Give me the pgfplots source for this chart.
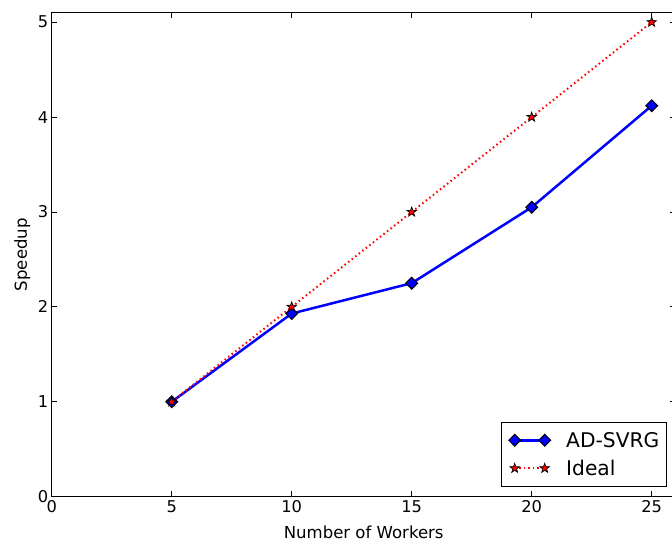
\documentclass[border=0pt]{standalone}
\usepackage{fontspec}
\setmainfont{DejaVu Sans}
\usepackage{pgfplots}
\pgfplotsset{compat=1.18}
\pgfdeclareplotmark{fstar}{%
  \pgfpathmoveto{\pgfpointpolar{90}{\pgfplotmarksize}}%
  \pgfpathlineto{\pgfpointpolar{126}{0.4\pgfplotmarksize}}%
  \pgfpathlineto{\pgfpointpolar{162}{\pgfplotmarksize}}%
  \pgfpathlineto{\pgfpointpolar{198}{0.4\pgfplotmarksize}}%
  \pgfpathlineto{\pgfpointpolar{234}{\pgfplotmarksize}}%
  \pgfpathlineto{\pgfpointpolar{270}{0.4\pgfplotmarksize}}%
  \pgfpathlineto{\pgfpointpolar{306}{\pgfplotmarksize}}%
  \pgfpathlineto{\pgfpointpolar{342}{0.4\pgfplotmarksize}}%
  \pgfpathlineto{\pgfpointpolar{18}{\pgfplotmarksize}}%
  \pgfpathlineto{\pgfpointpolar{54}{0.4\pgfplotmarksize}}%
  \pgfpathclose
  \pgfusepathqfillstroke
}
\begin{document}
\begin{tikzpicture}
\useasboundingbox (-51.7bp,-50.3bp) rectangle (620.3bp,496.7bp);
\clip (-51.7bp,-50.3bp) rectangle (620.3bp,496.7bp);
\begin{axis}[
  scale only axis, width=624bp, height=484bp,
  xmin=0, xmax=26, ymin=0, ymax=5.1,
  xtick={0,5,10,15,20,25}, ytick={0,1,2,3,4,5},
  tick align=inside, major tick length=5.5bp,
  tick style={black, line width=0.8bp},
  axis line style={black, line width=1.2bp},
  /pgf/number format/assume math mode=true,
  tick label style={font=\fontsize{16.3}{19}\selectfont},
  label style={font=\fontsize{16.6}{20}\selectfont},
  xlabel={Number of Workers}, ylabel={Speedup},
  xlabel style={at={(axis description cs:0.5,0)}, anchor=base, yshift=-41.5bp},
  ylabel style={at={(axis description cs:0,0.5)}, anchor=base, yshift=24.7bp},
  legend style={at={(1,0)}, anchor=south east, xshift=-9bp, yshift=10bp,
    draw=black, line width=0.8bp, font=\fontsize{20.3}{24}\selectfont,
    inner xsep=7bp, inner ysep=4bp, row sep=0bp,
    nodes={inner sep=0bp}},
  legend cell align=left,
  legend image code/.code={%
    \path[draw=none,fill=none] (-6.7bp,-14bp) rectangle (51.5bp,14bp);
    \draw[mark repeat=2,mark phase=1,#1] plot coordinates {(0bp,0bp)(15bp,0bp)(30bp,0bp)};},
]
\addplot[blue, line width=2.5bp, mark=square*, mark size=4.2bp,
  mark options={rotate=45, fill=blue, draw=black, line width=1bp, solid}]
  coordinates {(5,1)(10,1.93)(15,2.25)(20,3.05)(25,4.12)};
\addlegendentry{AD-SVRG}
\addplot[red, line width=2bp, dash pattern=on 1.5bp off 3bp, mark=fstar, mark size=5bp,
  mark options={fill=red, draw=black, line width=0.7bp, solid}]
  coordinates {(5,1)(10,2)(15,3)(20,4)(25,5)};
\addlegendentry{Ideal}
\end{axis}
\end{tikzpicture}
\end{document}
